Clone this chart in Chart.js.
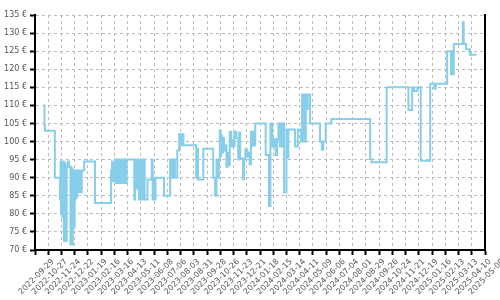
<!DOCTYPE html>
<html>
<head>
<meta charset="utf-8">
<script src="https://cdn.jsdelivr.net/npm/chart.js@4/dist/chart.umd.min.js"></script>
<style>
html, body { margin: 0; padding: 0; background: #fff; }
#wrap { width: 500px; height: 300px; }
</style>
</head>
<body>
<div id="wrap"><canvas id="myChartPreis"></canvas></div>
<script>

var tickLabels = ['2022-09-29', '2022-10-27', '2022-11-24', '2022-12-22', '2023-01-19', '2023-02-16',
    '2023-03-16', '2023-04-13', '2023-05-11', '2023-06-08', '2023-07-06', '2023-08-03', '2023-08-31',
    '2023-09-28', '2023-10-26', '2023-11-23', '2023-12-21', '2024-01-18', '2024-02-15', '2024-03-14',
    '2024-04-11', '2024-05-09', '2024-06-06', '2024-07-04', '2024-08-01', '2024-08-29', '2024-09-26',
    '2024-10-24', '2024-11-21', '2024-12-19', '2025-01-16', '2025-02-13', '2025-03-13', '2025-04-10',
    '2025-05-08'];

var datas = ['2022-10-17', '2022-10-19', '2022-10-20', '2022-11-10', '2022-11-21', '2022-11-22', '2022-11-23',
    '2022-11-24', '2022-11-26', '2022-11-28', '2022-11-29', '2022-12-01', '2022-12-03', '2022-12-05',
    '2022-12-08', '2022-12-10', '2022-12-13', '2022-12-14', '2022-12-15', '2022-12-16', '2022-12-17',
    '2022-12-18', '2022-12-19', '2022-12-20', '2022-12-21', '2022-12-22', '2022-12-23', '2022-12-24',
    '2022-12-25', '2022-12-27', '2022-12-28', '2022-12-30', '2023-01-01', '2023-01-03', '2023-01-04',
    '2023-01-06', '2023-01-11', '2023-02-03', '2023-03-09', '2023-03-11', '2023-03-12', '2023-03-14',
    '2023-03-16', '2023-03-18', '2023-03-20', '2023-03-22', '2023-03-25', '2023-03-27', '2023-03-30',
    '2023-04-01', '2023-04-04', '2023-04-07', '2023-04-09', '2023-04-11', '2023-04-27', '2023-04-29',
    '2023-04-30', '2023-05-04', '2023-05-07', '2023-05-10', '2023-05-13', '2023-05-16', '2023-05-19',
    '2023-05-25', '2023-06-03', '2023-06-05', '2023-06-07', '2023-06-08', '2023-06-11', '2023-06-29',
    '2023-07-12', '2023-07-15', '2023-07-18', '2023-07-22', '2023-07-27', '2023-07-31', '2023-08-04',
    '2023-08-06', '2023-08-09', '2023-09-05', '2023-09-08', '2023-09-09', '2023-09-20', '2023-10-11',
    '2023-10-15', '2023-10-18', '2023-10-20', '2023-10-23', '2023-10-25', '2023-10-27', '2023-10-28',
    '2023-10-30', '2023-11-01', '2023-11-03', '2023-11-06', '2023-11-08', '2023-11-11', '2023-11-13',
    '2023-11-15', '2023-11-18', '2023-11-21', '2023-11-23', '2023-11-25', '2023-11-29', '2023-12-03',
    '2023-12-05', '2023-12-07', '2023-12-13', '2023-12-15', '2023-12-18', '2023-12-22', '2023-12-25',
    '2023-12-27', '2023-12-30', '2024-01-01', '2024-01-03', '2024-01-06', '2024-01-08', '2024-01-30',
    '2024-02-06', '2024-02-09', '2024-02-13', '2024-02-17', '2024-02-20', '2024-02-23', '2024-02-26',
    '2024-02-29', '2024-03-02', '2024-03-05', '2024-03-07', '2024-03-09', '2024-03-14', '2024-03-16',
    '2024-03-18', '2024-04-01', '2024-04-07', '2024-04-14', '2024-04-16', '2024-04-18', '2024-04-20',
    '2024-04-22', '2024-04-24', '2024-04-26', '2024-04-28', '2024-05-03', '2024-05-24', '2024-05-28',
    '2024-05-31', '2024-06-05', '2024-06-17', '2024-09-07', '2024-09-10', '2024-10-12', '2024-11-27',
    '2024-12-05', '2024-12-09', '2024-12-16', '2024-12-23', '2025-01-12', '2025-01-21', '2025-01-24',
    '2025-02-17', '2025-02-25', '2025-02-27', '2025-03-01', '2025-03-03', '2025-03-22', '2025-03-24',
    '2025-03-29', '2025-04-06', '2025-04-20'];

var precos = [110, 104.5, 103, 90, 84, 94.5, 80,
    94, 79, 94.5, 72.5, 94, 72.5, 93,
    94.5, 93, 71.5, 93, 72, 92.5, 71.5,
    92, 76, 92, 76.5, 92, 84, 92,
    84.5, 92, 86, 92, 86, 92, 86,
    92, 94.5, 83, 92, 94.5, 89, 94,
    89, 95, 88.5, 95, 88.5, 95, 88.5,
    95, 88.5, 95, 88.5, 95, 84, 95,
    87, 95, 84, 95, 84, 95, 84,
    89.5, 95, 84, 90, 84, 90, 85,
    95, 90, 95, 90, 97.5, 102, 99,
    102, 99, 90, 98, 89.5, 98, 90,
    85, 95, 90, 95, 103, 96, 101.5,
    97, 101, 97.5, 99, 93, 97, 93.5,
    102.7, 98.6, 100.4, 98.6, 102.7, 101, 95,
    102.5, 95.3, 89.6, 95, 97.8, 95.8, 97,
    93.7, 102.7, 98.8, 102.7, 99, 105, 96.3,
    82.2, 105, 98.6, 100.6, 96.3, 100.6, 105,
    98.6, 105, 98.6, 105, 86, 103.3, 95.6,
    103.3, 98.6, 103.3, 100, 113, 100, 113,
    100, 113, 109, 113, 105, 100, 97.7,
    100, 105, 106.2, 95.2, 94.3, 115, 108.7,
    115, 114, 115, 94.7, 116, 114.6, 116,
    125, 118.6, 125, 118.6, 127, 133, 127,
    125.5, 124, 124];

var yMin = 70, yMax = 135, yStep = 5;
var diasPorTick = 28;

function diasDesde(d) {
    return (Date.parse(d) - Date.parse(tickLabels[0])) / 86400000;
}

var pontos = datas.map(function (d, i) {
    return { x: diasDesde(d), y: precos[i] };
});

var fonte = { family: 'DejaVu Sans', size: 8 };

const ctxPreis = document.getElementById("myChartPreis");

var myChartPreis = new Chart(ctxPreis, {
    type: 'line',
    data: {
        datasets: [{
            label: 'Preis',
            data: pontos,
            stepped: true,
            borderColor: 'rgb(135, 206, 235)',
            backgroundColor: 'transparent',
            borderWidth: 2,
            pointRadius: 0,
            fill: false
        }]
    },
    options: {
        responsive: true,
        maintainAspectRatio: false,
        animation: false,
        layout: {
            padding: { top: 15, left: 0, right: 0, bottom: 0 }
        },
        scales: {
            x: {
                type: 'linear',
                position: 'bottom',
                min: 0,
                max: diasDesde(tickLabels[tickLabels.length - 1]),
                afterBuildTicks: function (scale) {
                    scale.ticks = tickLabels.map(function (t, i) { return { value: i * diasPorTick }; });
                },
                afterFit: function (scale) {
                    scale.height = 50;
                    scale.paddingLeft = 0;
                    scale.paddingRight = 0;
                },
                ticks: {
                    autoSkip: false,
                    minRotation: 45,
                    maxRotation: 45,
                    labelOffset: 18,
                    padding: 2,
                    color: '#555',
                    font: fonte,
                    callback: function (value, index) {
                        return tickLabels[index];
                    }
                },
                grid: {
                    color: '#bbb',
                    tickColor: '#000',
                    tickLength: 5,
                    tickWidth: 2
                },
                border: {
                    color: '#000',
                    width: 2,
                    dash: [3, 3]
                }
            },
            y: {
                min: yMin,
                max: yMax,
                afterFit: function (scale) {
                    scale.width = 35;
                },
                ticks: {
                    stepSize: yStep,
                    padding: 3,
                    color: '#555',
                    font: fonte,
                    callback: function (value) {
                        return value + ' €';
                    }
                },
                grid: {
                    color: '#bbb',
                    tickColor: '#000',
                    tickLength: 5,
                    tickWidth: 2
                },
                border: {
                    color: '#000',
                    width: 2,
                    dash: [3, 3]
                }
            },
            yDireita: {
                position: 'right',
                min: yMin,
                max: yMax,
                afterFit: function (scale) {
                    scale.width = 15;
                },
                ticks: { display: false },
                grid: { drawOnChartArea: false, drawTicks: false },
                border: { color: '#000', width: 2 }
            }
        },
        plugins: {
            legend: { display: false },
            tooltip: { enabled: false }
        }
    }
});
</script>
</body>
</html>
